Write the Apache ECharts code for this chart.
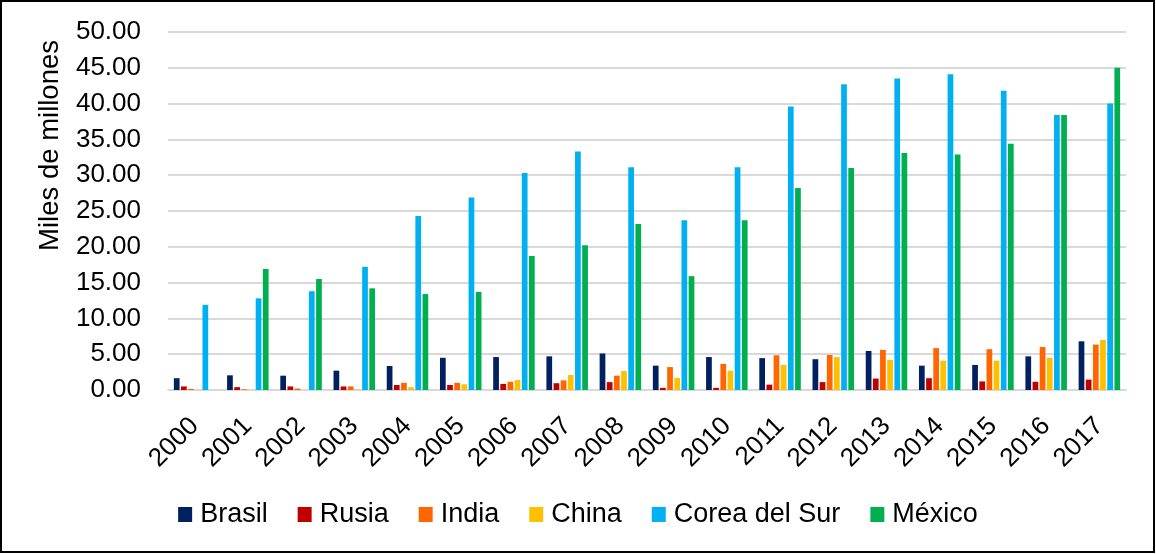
<!DOCTYPE html>
<html>
<head>
<meta charset="utf-8">
<script src="https://cdn.jsdelivr.net/npm/echarts@6/dist/echarts.min.js"></script>
<style>
  html, body { margin: 0; padding: 0; background: #fff; }
  #chart { width: 1156px; height: 554px; }
</style>
</head>
<body>
<div id="chart"></div>
<script>
  // años
  const years = ['2000', '2001', '2002', '2003', '2004', '2005', '2006', '2007', '2008',
    '2009', '2010', '2011', '2012', '2013', '2014', '2015', '2016', '2017'];

  // miles de millones
  const brasil = [1.65, 2.05, 2.0, 2.7, 3.35, 4.5, 4.6, 4.7, 5.1, 3.4, 4.6, 4.45, 4.3, 5.45, 3.4, 3.5, 4.7, 6.8];
  const rusia = [0.5, 0.4, 0.5, 0.5, 0.7, 0.7, 0.85, 0.95, 1.1, 0.3, 0.3, 0.75, 1.1, 1.6, 1.65, 1.2, 1.15, 1.45];
  const india = [0.15, 0.1, 0.2, 0.5, 1.0, 1.0, 1.15, 1.35, 2.0, 3.2, 3.65, 4.85, 4.9, 5.6, 5.85, 5.7, 6.0, 6.35];
  const china = [0, 0, 0, 0.05, 0.4, 0.8, 1.4, 2.1, 2.65, 1.7, 2.7, 3.5, 4.6, 4.2, 4.1, 4.1, 4.5, 7.0];
  const corea = [11.9, 12.8, 13.8, 17.2, 24.3, 26.9, 30.3, 33.3, 31.1, 23.7, 31.1, 39.6, 42.7, 43.5, 44.1, 41.8, 38.4, 40.0];
  const mexico = [0, 16.9, 15.5, 14.2, 13.4, 13.7, 18.7, 20.2, 23.2, 15.9, 23.7, 28.2, 31.0, 33.1, 32.9, 34.4, 38.4, 45.0];

  const seriesNames = ['Brasil', 'Rusia', 'India', 'China', 'Corea del Sur', 'México'];
  const seriesData = [brasil, rusia, india, china, corea, mexico];
  const colors = ['#002060', '#C00000', '#FF6600', '#FFC000', '#00B0F0', '#00B050'];

  const font = '"Liberation Sans", Arial, sans-serif';

  let myChart = echarts.init(document.getElementById('chart'));

  myChart.setOption({
    backgroundColor: '#fff',
    color: colors,
    animation: false,
    grid: {
      left: 168,
      right: 30,
      top: 32,
      bottom: 164
    },
    legend: {
      data: seriesNames,
      top: 496,
      left: 'center',
      itemWidth: 14,
      itemHeight: 15,
      itemGap: 30,
      icon: 'rect',
      textStyle: {
        fontFamily: font,
        fontSize: 27,
        color: '#000',
        padding: [0, 0, 0, 3]
      }
    },
    xAxis: {
      type: 'category',
      data: years,
      axisLine: { lineStyle: { color: '#d9d9d9', width: 2 } },
      axisTick: { show: false },
      axisLabel: {
        rotate: 45,
        interval: 0,
        margin: 32,
        fontFamily: font,
        fontSize: 26,
        color: '#000'
      }
    },
    yAxis: {
      type: 'value',
      min: 0,
      max: 50,
      interval: 5,
      axisLine: { show: false },
      axisTick: { show: false },
      splitLine: { lineStyle: { color: '#d9d9d9', width: 2 } },
      axisLabel: {
        margin: 27,
        fontFamily: font,
        fontSize: 26,
        color: '#000',
        formatter: function (v) { return v.toFixed(2); }
      }
    },
    graphic: [{
      type: 'text',
      left: 36,
      top: 40,
      rotation: Math.PI / 2,
      style: {
        text: 'Miles de millones',
        fontFamily: font,
        fontSize: 27.5,
        fill: '#000'
      }
    }, {
      type: 'rect',
      shape: { x: 1, y: 1, width: 1153, height: 551 },
      style: { fill: null, stroke: '#000', lineWidth: 2 },
      silent: true
    }],
    series: seriesNames.map(function (name, i) {
      return {
        name: name,
        type: 'bar',
        barCategoryGap: '22%',
        barGap: '25%',
        data: seriesData[i]
      };
    })
  });
</script>
</body>
</html>
